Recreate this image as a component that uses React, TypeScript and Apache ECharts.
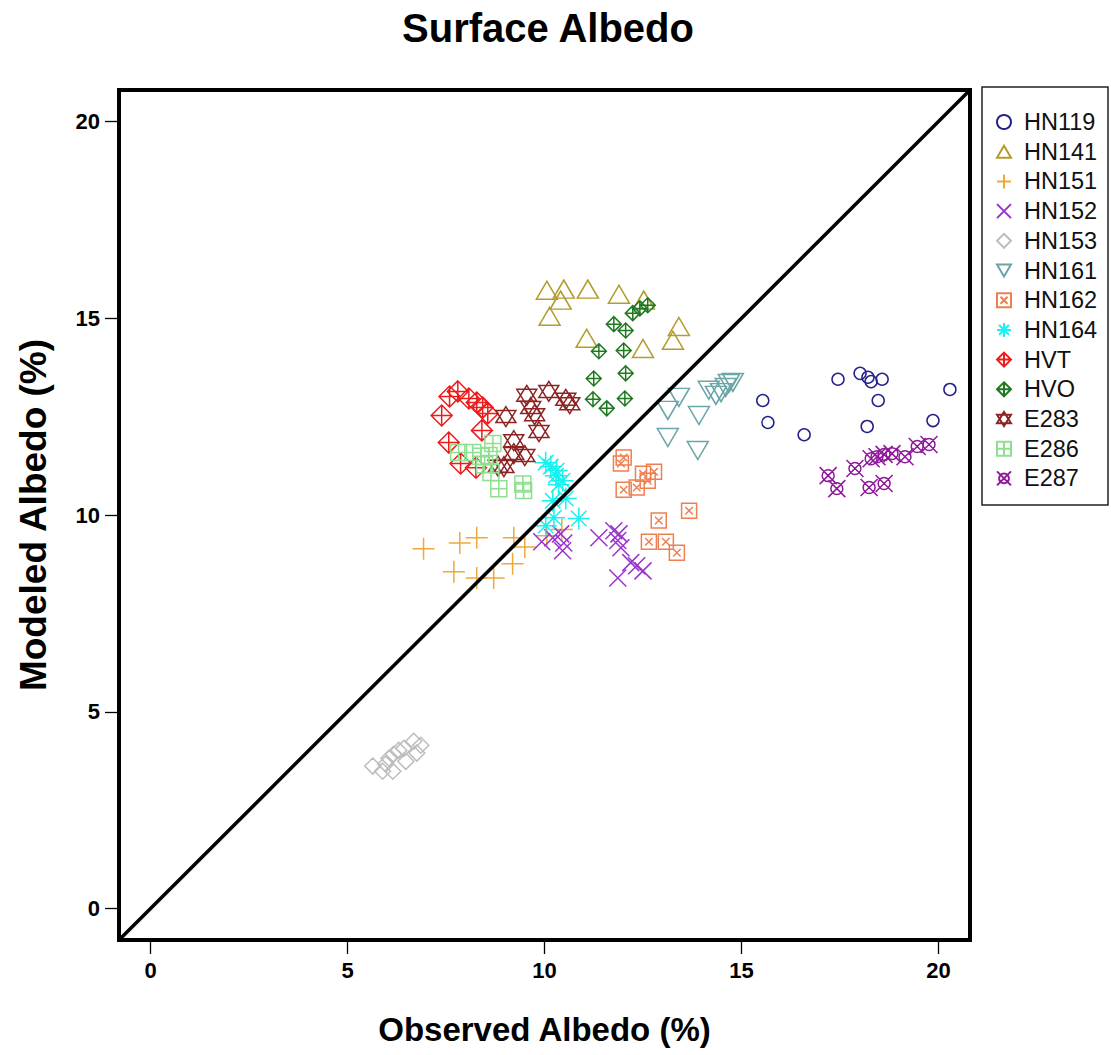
import React, { useEffect, useRef } from "react";
import * as echarts from "echarts";

// Shared axis extent for both axes so the 1:1 line runs corner to corner
const AXIS_MIN = -0.8;
const AXIS_MAX = 20.8;
const TICKS = [0, 5, 10, 15, 20];

// Observed (%) vs modeled (%) surface albedo per site
const HN119 = [
  [17.45, 13.45], [18.01, 13.6], [18.21, 13.5], [18.29, 13.39], [18.57, 13.45],
  [20.29, 13.19], [15.54, 12.91], [15.67, 12.35], [16.59, 12.04], [18.47, 12.91],
  [18.19, 12.25], [19.86, 12.4],
];
const HN141 = [
  [10.06, 15.71], [10.49, 15.74], [10.41, 15.46], [11.1, 15.74], [11.89, 15.61],
  [10.13, 15.05], [11.07, 14.49], [12.52, 15.46], [13.41, 14.79], [13.26, 14.44],
  [12.5, 14.23],
];
const HN151 = [
  [6.93, 9.14], [7.85, 9.29], [8.28, 9.42], [9.22, 9.42], [9.5, 9.19],
  [7.7, 8.56], [8.28, 8.4], [8.71, 8.4], [9.19, 8.76], [10.44, 9.63], [10.06, 9.47],
];
const HN152 = [
  [9.93, 9.32], [10.21, 9.42], [10.41, 9.52], [10.49, 9.29], [10.46, 9.09],
  [11.38, 9.42], [11.76, 9.6], [11.89, 9.52], [11.86, 9.35], [11.94, 9.17],
  [12.19, 8.79], [12.34, 8.71], [12.5, 8.58], [11.86, 8.4],
];
const HN153 = [
  [5.64, 3.62], [5.89, 3.49], [6.05, 3.82], [6.17, 3.92], [6.3, 4.02],
  [6.43, 4.07], [6.68, 4.25], [6.86, 4.15], [6.15, 3.49], [6.48, 3.74],
  [6.76, 3.95], [5.97, 3.67],
];
const HN161 = [
  [13.41, 12.99], [13.13, 12.66], [13.13, 11.97], [13.92, 12.53], [13.89, 11.64],
  [14.17, 13.17], [14.48, 13.11], [14.6, 13.24], [14.68, 13.34], [14.78, 13.37],
  [14.35, 13.04],
];
const HN162 = [
  [12.01, 11.46], [11.94, 11.31], [12.5, 11.05], [12.78, 11.1], [12.62, 10.87],
  [12.34, 10.7], [12.01, 10.64], [13.67, 10.11], [12.9, 9.86], [12.65, 9.32],
  [13.08, 9.32], [13.36, 9.04],
];
const HN164 = [
  [10.03, 11.33], [10.16, 11.23], [10.29, 11.0], [10.46, 10.87], [10.36, 10.77],
  [10.21, 10.36], [10.54, 10.42], [10.24, 9.93], [10.87, 9.91], [10.03, 9.73],
  [10.31, 11.13],
];
const HVT = [
  [7.59, 13.01], [7.8, 13.14], [8.08, 12.96], [8.28, 12.86], [8.43, 12.73],
  [8.56, 12.58], [7.39, 12.53], [8.41, 12.15], [7.57, 11.84], [7.87, 11.31],
  [8.26, 11.2],
];
const HVO = [
  [11.76, 14.85], [12.06, 14.69], [11.38, 14.16], [12.01, 14.18], [11.25, 13.47],
  [12.06, 13.6], [11.23, 12.94], [11.58, 12.71], [12.04, 12.96], [12.24, 15.13],
  [12.42, 15.25], [12.62, 15.33],
];
const E283 = [
  [9.55, 13.04], [10.11, 13.14], [10.54, 12.94], [10.64, 12.83], [9.65, 12.73],
  [9.75, 12.55], [9.86, 12.12], [9.02, 12.5], [9.22, 11.89], [9.5, 11.51],
  [9.22, 11.56], [8.97, 11.23], [8.82, 11.24],
];
const E286 = [
  [7.82, 11.59], [8.18, 11.59], [8.38, 11.49], [8.59, 11.51], [8.69, 11.82],
  [8.64, 11.08], [8.84, 10.67], [9.45, 10.79], [9.47, 10.62], [8.48, 11.28],
];
const E287 = [
  [17.2, 11.0], [17.42, 10.67], [17.88, 11.18], [18.29, 11.43], [18.44, 11.48],
  [18.62, 11.54], [18.82, 11.56], [19.15, 11.48], [19.46, 11.74], [19.76, 11.79],
  [18.24, 10.7], [18.62, 10.8],
];

const SITE_NAMES = [
  "HN119", "HN141", "HN151", "HN152", "HN153", "HN161", "HN162",
  "HN164", "HVT", "HVO", "E283", "E286", "E287",
];
const SITE_DATA = [
  HN119, HN141, HN151, HN152, HN153, HN161, HN162,
  HN164, HVT, HVO, E283, E286, E287,
];

// Marker shapes
const PLUS = "path://M10 0L10 20M0 10L20 10";
const CROSS = "path://M0 0L20 20M20 0L0 20";
const ASTERISK = "path://M10 0L10 20M0 10L20 10M3 3L17 17M17 3L3 17";
const UP_TRI = "path://M10 0L20 17L0 17Z";
const DOWN_TRI = "path://M0 0L20 0L10 17Z";
const DIAMOND_PLUS = "path://M10 0L20 10L10 20L0 10ZM10 0L10 20M0 10L20 10";
const BOX_CROSS = "path://M0 0L20 0L20 20L0 20ZM5 5L15 15M15 5L5 15";
const BOX_PLUS = "path://M0 0L20 0L20 20L0 20ZM10 0L10 20M0 10L20 10";
const HEXAGRAM = "path://M10 0L20 16L0 16ZM10 20L0 4L20 4Z";
const CIRCLE_CROSS = "path://M3 10A7 7 0 1 1 17 10A7 7 0 1 1 3 10ZM0 0L20 20M20 0L0 20";

const SITE_STYLE: Record<string, { color: string; symbol: string; size: number | number[] }> = {
  HN119: { color: "#22228c", symbol: "circle", size: 12 },
  HN141: { color: "#b39b2d", symbol: UP_TRI, size: [21, 18] },
  HN151: { color: "#f2a73a", symbol: PLUS, size: 22 },
  HN152: { color: "#9a33cc", symbol: CROSS, size: 17 },
  HN153: { color: "#bdbdbd", symbol: "diamond", size: 16 },
  HN161: { color: "#6aa5a8", symbol: DOWN_TRI, size: [21, 18] },
  HN162: { color: "#f07f50", symbol: BOX_CROSS, size: 15 },
  HN164: { color: "#19f0f0", symbol: ASTERISK, size: 22 },
  HVT: { color: "#ee1c1c", symbol: DIAMOND_PLUS, size: 21 },
  HVO: { color: "#1f7a1f", symbol: DIAMOND_PLUS, size: 15 },
  E283: { color: "#8c2424", symbol: HEXAGRAM, size: 20 },
  E286: { color: "#8ee08e", symbol: BOX_PLUS, size: 16 },
  E287: { color: "#8e1a9a", symbol: CIRCLE_CROSS, size: 17 },
};

const FONT = "'Liberation Sans', Arial, sans-serif";

export default function App() {
  const ref = useRef<HTMLDivElement>(null);

  useEffect(() => {
    if (!ref.current) return;
    const chart = echarts.init(ref.current, undefined, { renderer: "svg" });

    const scatterSeries = SITE_NAMES.map((name, i) => {
      const st = SITE_STYLE[name];
      return {
        name,
        type: "scatter",
        data: SITE_DATA[i],
        symbol: st.symbol,
        symbolSize: st.size,
        itemStyle: {
          color: "rgba(0,0,0,0)",
          borderColor: st.color,
          borderWidth: 1.5,
          opacity: 1,
        },
        z: 3,
      };
    });

    const axisCommon = {
      type: "value",
      min: AXIS_MIN,
      max: AXIS_MAX,
      axisLine: { show: false, onZero: false },
      splitLine: { show: false },
      axisTick: {
        show: true,
        length: 14,
        customValues: TICKS,
        lineStyle: { color: "#000", width: 1.3 },
      },
      axisLabel: {
        customValues: TICKS,
        fontSize: 22,
        fontWeight: "bold",
        fontFamily: FONT,
        color: "#000",
        margin: 19,
      },
      nameLocation: "middle",
    };

    chart.setOption({
      animation: false,
      backgroundColor: "#fff",
      title: {
        text: "Surface Albedo",
        left: 543,
        top: 3,
        textAlign: "center",
        textStyle: { fontSize: 40, fontWeight: "bold", fontFamily: FONT, color: "#000" },
      },
      grid: {
        left: 119,
        top: 90,
        width: 851,
        height: 850,
        show: true,
        borderColor: "#000",
        borderWidth: 4,
        backgroundColor: "transparent",
        containLabel: false,
      },
      xAxis: {
        ...axisCommon,
        name: "Observed Albedo (%)",
        nameGap: 73,
        nameTextStyle: { fontSize: 33, fontWeight: "bold", fontFamily: FONT, color: "#000" },
      },
      yAxis: {
        ...axisCommon,
        name: "Modeled Albedo (%)",
        nameGap: 67,
        nameRotate: 90,
        nameTextStyle: { fontSize: 37, fontWeight: "bold", fontFamily: FONT, color: "#000" },
      },
      legend: {
        orient: "vertical",
        left: 996,
        top: 110,
        padding: 0,
        itemGap: 5.7,
        itemWidth: 14,
        itemHeight: 14,
        data: SITE_NAMES,
        textStyle: {
          fontSize: 23.5,
          fontFamily: FONT,
          color: "#111",
          lineHeight: 24,
          padding: [0, 0, 0, 8],
        },
      },
      graphic: [
        {
          type: "rect",
          shape: { x: 982, y: 87, width: 126, height: 418 },
          style: { fill: "none", stroke: "#222", lineWidth: 1.5 },
          silent: true,
        },
      ],
      series: [
        ...scatterSeries,
        {
          name: "1:1",
          type: "line",
          data: [
            [AXIS_MIN, AXIS_MIN],
            [AXIS_MAX, AXIS_MAX],
          ],
          symbol: "none",
          lineStyle: { color: "#000", width: 3.5 },
          z: 5,
          silent: true,
        },
      ],
    });

    return () => chart.dispose();
  }, []);

  return (
    <div
      ref={ref}
      style={{ position: "fixed", left: 0, top: 0, width: 1111, height: 1055 }}
    />
  );
}
